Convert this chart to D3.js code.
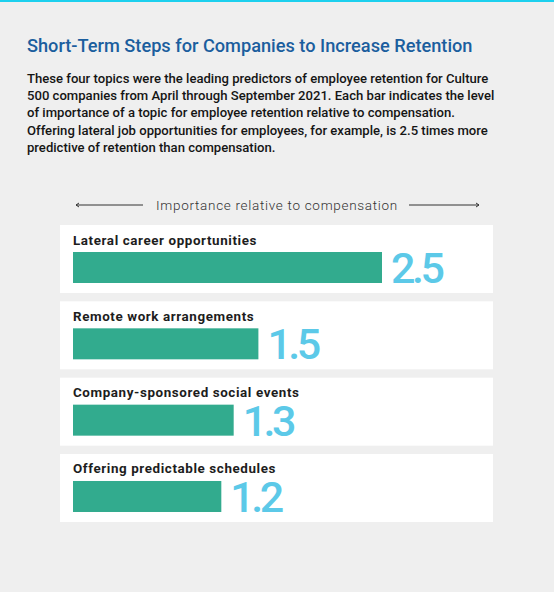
<!DOCTYPE html>
<html>
<head>
<meta charset="utf-8">
<script src="https://cdn.jsdelivr.net/npm/d3@7"></script>
<style>
  body { margin: 0; background: #efefef; }
  svg { display: block; }
</style>
</head>
<body>
<script>
// chart data
var topics = ["Lateral career opportunities", "Remote work arrangements",
  "Company-sponsored social events", "Offering predictable schedules"];
var importance = [2.5, 1.5, 1.3, 1.2];

var title = "Short-Term Steps for Companies to Increase Retention";
var intro = [
  "These four topics were the leading predictors of employee retention for Culture",
  "500 companies from April through September 2021. Each bar indicates the level",
  "of importance of a topic for employee retention relative to compensation.",
  "Offering lateral job opportunities for employees, for example, is 2.5 times more",
  "predictive of retention than compensation."
];
var axisLabel = "Importance relative to compensation";

var W = 554, H = 592;
var svg = d3.select("body").append("svg").attr("width", W).attr("height", H);

svg.append("rect").attr("width", W).attr("height", H).attr("fill", "#efefef");
svg.append("rect").attr("width", W).attr("height", 2).attr("fill", "#1dd0ee");

svg.append("text").attr("x", 27).attr("y", 52)
  .attr("font-family", "Roboto, sans-serif").attr("font-weight", 500)
  .attr("font-size", 18.2).attr("fill", "#1b5e9e").text(title);

svg.append("g").selectAll("text").data(intro).enter().append("text")
  .attr("x", 27).attr("y", function(d, i) { return 83 + i * 17.2; })
  .attr("font-family", "Roboto, sans-serif").attr("font-weight", 500)
  .attr("font-size", 13.1).attr("fill", "#151515").text(function(d) { return d; });

// axis caption with arrows
var ax = svg.append("g").attr("stroke", "#333").attr("stroke-width", 1);
ax.append("line").attr("x1", 76).attr("x2", 143).attr("y1", 205).attr("y2", 205);
ax.append("line").attr("x1", 409).attr("x2", 479).attr("y1", 205).attr("y2", 205);
ax.append("path").attr("d", "M79,203 L76,205 L79,207").attr("fill", "none");
ax.append("path").attr("d", "M476,203 L479,205 L476,207").attr("fill", "none");
svg.append("text").attr("x", 277).attr("y", 210).attr("text-anchor", "middle")
  .attr("font-family", "Roboto, sans-serif").attr("font-weight", 300)
  .attr("font-size", 13.5).attr("letter-spacing", 0.7).attr("fill", "#333").text(axisLabel);

var y = d3.scaleBand().domain(topics).range([225, 522]).paddingInner(0.109).paddingOuter(0);
var x = d3.scaleLinear().domain([0, 2.5]).range([73, 382]);

var rows = svg.append("g").selectAll("g").data(topics).enter().append("g")
  .attr("transform", function(d) { return "translate(0," + y(d) + ")"; });

rows.append("rect").attr("x", 60).attr("width", 433).attr("height", y.bandwidth()).attr("fill", "#fff");

rows.append("text").attr("x", 73).attr("y", 19.5)
  .attr("font-family", "Roboto, sans-serif").attr("font-weight", 700)
  .attr("font-size", 13.4).attr("letter-spacing", 0.6).attr("fill", "#1d1d1d")
  .text(function(d) { return d; });

rows.append("rect").attr("x", x(0)).attr("y", 27).attr("height", 31)
  .attr("width", function(d, i) { return x(importance[i]) - x(0); })
  .attr("fill", "#32ab8e");

rows.append("text").attr("x", function(d, i) { return x(importance[i]) + 9; })
  .attr("y", 58)
  .attr("font-family", "Roboto, sans-serif").attr("font-weight", 500)
  .attr("font-size", 43).attr("letter-spacing", -3.5).attr("fill", "#5cc9e8")
  .text(function(d, i) { return importance[i].toFixed(1); });
</script>
</body>
</html>
